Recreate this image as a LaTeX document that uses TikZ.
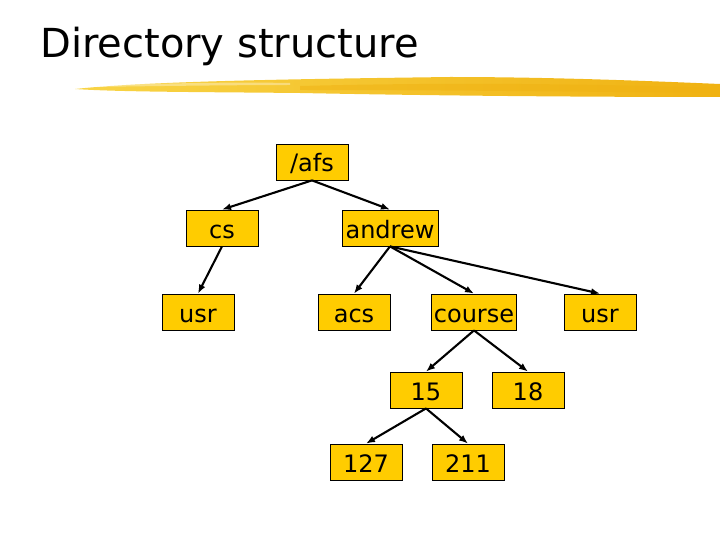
\documentclass[tikz,border=0pt]{standalone}
\usepackage{fontspec}
\setmainfont{DejaVu Sans}
\usepackage{tikz}
\usepackage{xcolor}
\usetikzlibrary{arrows.meta, positioning}
\definecolor{dirbox}{RGB}{255, 204, 0}
\definecolor{brushlt}{RGB}{248, 212, 70}
\definecolor{brushdk}{RGB}{240, 178, 18}

\begin{document}
\begin{tikzpicture}[x=1pt, y=-1pt,
    dir/.style={draw=black, fill=dirbox, rectangle, minimum width=72pt,
      minimum height=36pt, inner xsep=2pt, line width=0.8pt,
      text height=21pt, text depth=1pt,
      font=\fontsize{24}{26}\selectfont},
    link/.style={-{Latex[length=9pt, width=7pt]}, line width=2.1pt}]
  \useasboundingbox (0,0) rectangle (720,540);
  % Title
  \node[anchor=base west, inner sep=0pt, font=\fontsize{40}{42}\selectfont]
    (title) at (40,58) {Directory structure};
  % Brush stroke under the title
  \shade[left color=brushlt, right color=brushdk]
    (75,89) .. controls (150,81) and (300,79) .. (450,77)
    .. controls (550,77) and (650,81) .. (720,84) -- (720,97)
    .. controls (600,97) and (450,96) .. (300,93)
    .. controls (200,92) and (120,92) .. (75,89) -- cycle;
  \fill[brushdk, opacity=0.5]
    (300,86) .. controls (450,82) and (600,84) .. (720,88) -- (720,93)
    .. controls (600,92) and (450,90) .. (300,90) -- cycle;
  \fill[white, opacity=0.35]
    (90,86) .. controls (160,83) and (240,82) .. (290,83) -- (290,85)
    .. controls (240,85) and (160,86) .. (90,87) -- cycle;
  % Top levels
  \node[dir] (afs) at (312,162) {/afs};
  \node[dir] (cs) at (222,228) {cs};
  \node[dir, minimum width=96pt] (andrew) at (390,228) {andrew};
  % Third level
  \node[dir] (usr1) at (198,312) {usr};
  \node[dir] (acs) at (354,312) {acs};
  \node[dir, minimum width=83pt] (course) at (474,312) {course};
  \node[dir] (usr2) at (600,312) {usr};
  % Course numbers
  \node[dir] (c15) at (426,390) {15};
  \node[dir] (c18) at (528,390) {18};
  \node[dir] (c127) at (366,462) {127};
  \node[dir] (c211) at (468,462) {211};
  % Links
  \foreach \a/\b in {afs/cs, afs/andrew, cs/usr1, andrew/acs, andrew/course,
    andrew/usr2, course/c15, course/c18, c15/c127, c15/c211} {
    \draw[link] (\a.south) -- (\b.north);
  }
\end{tikzpicture}
\end{document}
